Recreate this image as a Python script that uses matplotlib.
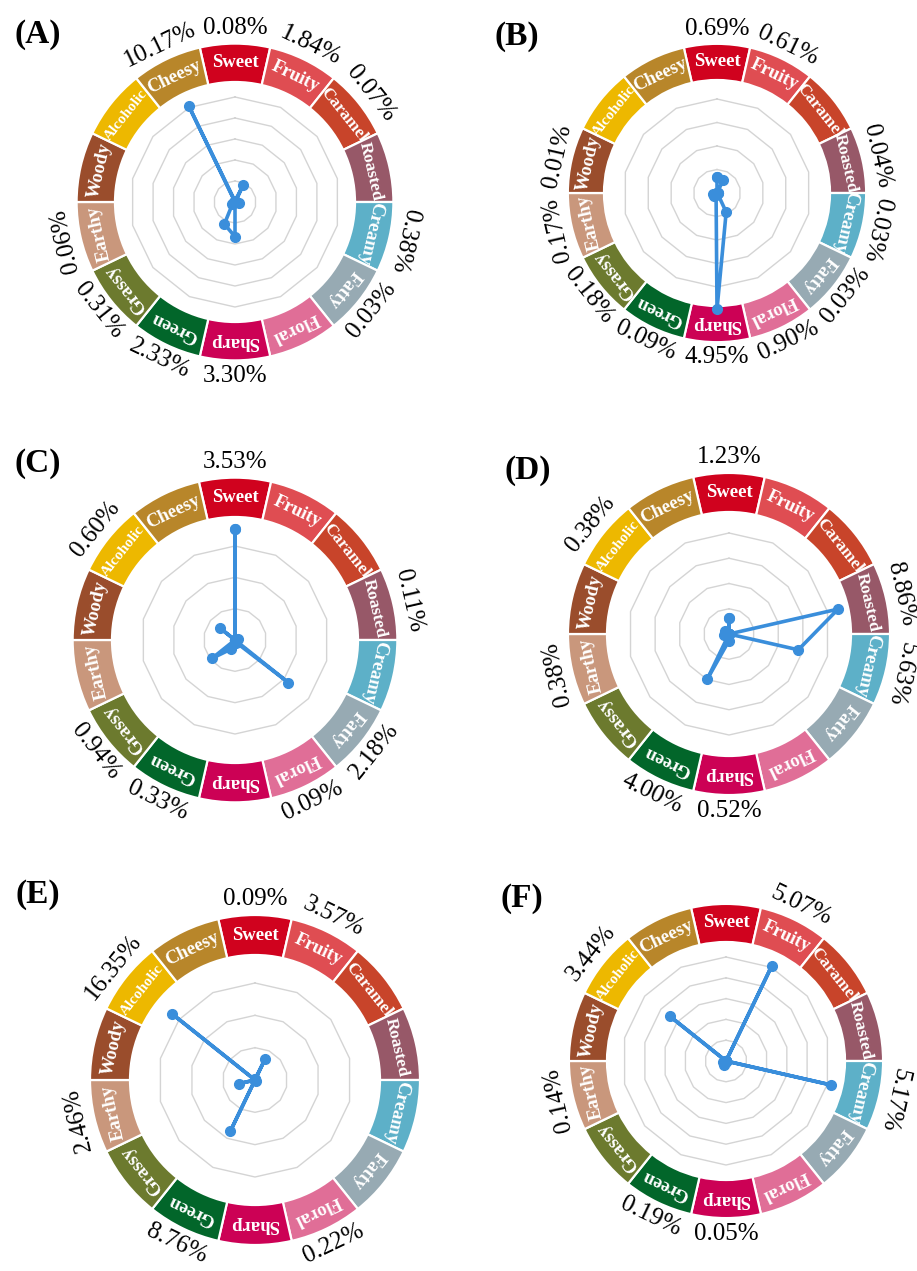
"""
Six flavour-wheel radar panels (A-F): relative content (%) of each odour
category, drawn inside a coloured 14-segment ring.
"""
import matplotlib
matplotlib.use("Agg")
import matplotlib.pyplot as plt
import numpy as np

SERIF = ["Liberation Serif", "DejaVu Serif"]

categories = ["Sweet", "Fruity", "Caramel", "Roasted", "Creamy", "Fatty", "Floral",
              "Sharp", "Green", "Grassy", "Earthy", "Woody", "Alcoholic", "Cheesy"]

seg_colors = ["#D0021E", "#DF4D52", "#C8442A", "#975868", "#5DB0C8", "#97AAB3", "#E06E97",
              "#CC0155", "#02662A", "#6C7A2E", "#C9977C", "#9A4D2C", "#EDB800", "#B8862A"]

panel_tags = ["(A)", "(B)", "(C)", "(D)", "(E)", "(F)"]

# content (%) per category, same order as `categories`
vals_A = [0.08, 1.84, 0.07, 0.00, 0.38, 0.03, 0.00, 3.30, 2.33, 0.31, 0.06, 0.00, 0.00, 10.17]
vals_B = [0.69, 0.61, 0.00, 0.04, 0.03, 0.03, 0.90, 4.95, 0.09, 0.18, 0.17, 0.01, 0.00, 0.00]
vals_C = [3.53, 0.00, 0.00, 0.11, 0.00, 2.18, 0.09, 0.00, 0.33, 0.94, 0.00, 0.00, 0.60, 0.00]
vals_D = [1.23, 0.00, 0.00, 8.86, 5.63, 0.00, 0.00, 0.52, 4.00, 0.00, 0.38, 0.00, 0.38, 0.00]
vals_E = [0.09, 3.57, 0.00, 0.00, 0.00, 0.00, 0.22, 0.00, 8.76, 0.00, 2.46, 0.00, 16.35, 0.00]
vals_F = [0.00, 5.07, 0.00, 0.00, 5.17, 0.00, 0.00, 0.05, 0.19, 0.00, 0.14, 0.00, 3.44, 0.00]

# radar scale of each panel: value of the outermost grid ring and ring count
grid_max = [10, 4, 3, 8, 15, 5]
grid_n = [5, 4, 3, 4, 3, 5]

all_vals = [vals_A, vals_B, vals_C, vals_D, vals_E, vals_F]

# ---------------------------------------------------------------------------
# layout (pixels in a 917 x 1271 canvas, origin top-left)
# ---------------------------------------------------------------------------
W, H = 917, 1271
centers = [(235, 202), (717, 193), (235, 640), (729, 634), (255, 1080), (726, 1061)]
ring_in_px = [120, 113, 123, 122, 125, 119]
grid_out_px = [105, 94, 94, 101, 97, 104]
tag_pos = [(38, 35), (517, 36), (38, 464), (528, 470), (38, 895), (522, 899)]

R_IN, R_OUT, R_LAB, R_LIM = 1.0, 1.32, 1.45, 1.75
LINE_BLUE = "#3A8EDB"

fig = plt.figure(figsize=(W / 100, H / 100), dpi=100)

n = len(categories)
step = 2 * np.pi / n
theta = np.arange(n) * step
theta_closed = np.append(theta, theta[0])

for p, vals in enumerate(all_vals):
    cx, cy = centers[p]
    rin = ring_in_px[p]
    hw = R_LIM * rin
    ax = fig.add_axes([(cx - hw) / W, (H - cy - hw) / H, 2 * hw / W, 2 * hw / H],
                      projection="polar")
    ax.set_theta_zero_location("N")
    ax.set_theta_direction(-1)
    ax.set_ylim(0, R_LIM)
    ax.set_axis_off()

    # coloured ring of categories
    ax.bar(theta, R_OUT - R_IN, width=step, bottom=R_IN, color=seg_colors,
           edgecolor="white", lw=1.6, zorder=2)
    for k, name in enumerate(categories):
        deg = np.degrees(theta[k])
        fs = 11 if len(name) > 8 else (12.5 if len(name) == 7 else 13.5)
        ax.text(theta[k], (R_IN + R_OUT) / 2, name, color="white", fontsize=fs,
                fontweight="bold", family=SERIF, rotation=-deg, rotation_mode="anchor",
                ha="center", va="center", zorder=3)

    # polygonal grid
    g = grid_out_px[p] / rin
    for i in range(1, grid_n[p] + 1):
        r = g * i / grid_n[p]
        ax.plot(theta_closed, np.full(n + 1, r), color="#d4d4d4", lw=1.0, zorder=1)

    # radar line
    v = np.array(vals)
    r = g * v / grid_max[p]
    ax.plot(theta_closed, np.append(r, r[0]), color=LINE_BLUE, lw=2.6,
            marker="o", ms=7, zorder=4)

    # percentage labels outside the ring
    for k, val in enumerate(vals):
        if val <= 0:
            continue
        deg = np.degrees(theta[k])
        rot = 180 - deg if 115 < deg < 245 else -deg
        ax.text(theta[k], R_LAB, f"{val:.2f}%", fontsize=18, family=SERIF,
                rotation=rot, rotation_mode="anchor", ha="center", va="center")

    tx, ty = tag_pos[p]
    fig.text(tx / W, 1 - ty / H, panel_tags[p], fontsize=24, fontweight="bold",
             family=SERIF, ha="center", va="center")

fig.savefig("out.png", dpi=100)
